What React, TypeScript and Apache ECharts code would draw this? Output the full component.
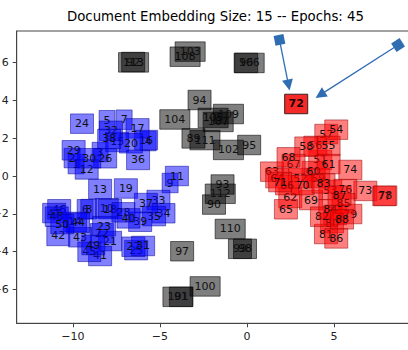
import React, { useEffect, useRef } from 'react';
import * as echarts from 'echarts';

const TITLE = 'Document Embedding Size: 15 -- Epochs: 45';
const X_TICKS = [-10, -5, 0, 5];
const Y_TICKS = [-6, -4, -2, 0, 2, 4, 6];
const X_RANGE = [-13.22, 9.44];
const Y_RANGE = [-7.79, 7.67];

const blueLabels = [1,2,3,4,5,6,7,8,9,10,11,12,13,14,15,16,17,18,19,20,21,22,23,24,25,26,27,28,29,30,31,32,33,34,35,36,37,38,39,40,41,42,43,44,45,46,47,48,49,50];
const blueX = [-9.81,-10.04,-8.43,-5.67,-8.03,-9.29,-7.05,-9.08,-4.41,-8.05,-4.02,-9.20,-8.43,-9.87,-7.45,-5.79,-6.28,-7.86,-6.95,-6.66,-7.86,-8.33,-8.20,-9.47,-6.36,-8.14,-6.52,-7.09,-9.95,-9.05,-5.96,-7.81,-5.08,-4.79,-5.33,-6.25,-5.80,-7.91,-6.13,-6.80,-8.43,-10.83,-9.58,-9.70,-9.05,-10.78,-11.07,-10.92,-8.82,-10.60];
const blueY = [0.63,0.95,1.27,1.85,2.95,-1.76,2.98,-1.75,-0.37,-1.71,0.00,0.35,-0.69,-2.43,1.80,1.90,2.52,-1.75,-0.66,1.73,-3.44,-3.03,-2.65,2.77,-3.92,0.94,-3.74,-1.92,1.36,0.94,-3.70,2.39,-1.27,-1.97,-2.12,0.85,-1.43,1.96,-2.42,-2.24,-4.23,-3.17,-3.24,-2.47,-4.01,-1.76,-1.96,-2.15,-3.65,-2.54];

const redLabels = [51,52,53,57,54,56,55,58,59,60,61,62,63,64,65,66,67,68,69,70,71,72,73,74,75,76,77,78,79,80,81,82,83,84,85,86,87,88];
const redX = [4.21,3.06,4.79,4.56,5.13,3.93,4.69,3.41,4.10,3.83,4.69,2.49,1.44,1.74,2.24,2.30,2.68,2.39,3.68,3.20,1.91,2.83,6.80,5.94,5.07,5.65,7.89,7.95,5.94,4.89,4.54,4.31,4.40,4.79,5.55,5.13,5.32,5.46];
const redY = [0.85,-0.11,-0.74,2.22,2.45,1.59,1.59,1.55,-0.11,0.26,0.63,-1.16,0.23,-0.11,-1.76,-0.48,0.63,0.99,-1.27,-0.48,-0.32,3.81,-0.79,0.32,-2.06,-0.69,-1.06,-1.04,-2.01,-2.49,-3.07,-2.15,-0.39,-1.76,-1.44,-3.30,-1.04,-2.29];

const grayLabels = [89,90,91,113,92,93,94,95,96,97,98,99,100,101,102,108,103,104,105,106,107,109,110,111,112];
const grayX = [-3.07,-1.89,-3.79,-6.51,-6.53,-1.40,-2.72,0.13,-0.04,-3.72,-0.11,-0.40,-2.40,-3.96,-1.06,-3.55,-3.26,-4.14,-1.94,0.13,-1.65,-1.06,-0.96,-2.41,-1.53];
const grayY = [1.99,-1.51,-6.39,6.01,6.03,-0.45,4.02,1.64,5.98,-3.98,-3.85,-3.85,-5.84,-6.39,1.38,6.31,6.58,2.99,3.07,5.98,2.86,3.28,-2.80,1.90,-0.94];

const highlighted = [72];

const arrowStartX = [1.87, 8.68];
const arrowStartY = [7.20, 6.93];
const arrowEndX = [2.39, 4.21];
const arrowEndY = [4.81, 4.29];

const FONT = 'DejaVu Sans';
const fmt = (v: number) => (v < 0 ? '\u2212' + Math.abs(v) : String(v));

function boxSeries(labels: number[], xs: number[], ys: number[], fill: string, stroke: string) {
  return {
    type: 'custom',
    coordinateSystem: 'cartesian2d',
    clip: false,
    silent: true,
    data: labels.map((_, i) => [xs[i], ys[i]]),
    renderItem: (params: any, api: any) => {
      const p = api.coord([api.value(0), api.value(1)]);
      const lab = String(labels[params.dataIndex]);
      const hl = highlighted.includes(labels[params.dataIndex]);
      const w = lab.length * 7.06 + 8.9;
      const h = 19.5;
      return {
        type: 'group',
        children: [
          {
            type: 'rect',
            shape: { x: p[0] - w / 2, y: p[1] - h / 2, width: w, height: h },
            style: {
              fill: hl ? 'rgba(245,30,30,0.95)' : fill,
              stroke: hl ? '#3a2020' : stroke,
              lineWidth: 1,
            },
          },
          {
            type: 'text',
            style: {
              text: lab,
              x: p[0],
              y: p[1],
              align: 'center',
              verticalAlign: 'middle',
              textAlign: 'center',
              textVerticalAlign: 'middle',
              font: (hl ? 'bold ' : '') + '11px "DejaVu Sans"',
              fill: hl ? '#200000' : '#111',
            },
          },
        ],
      };
    },
  };
}

export default function App() {
  const ref = useRef<HTMLDivElement>(null);
  useEffect(() => {
    if (!ref.current) return;
    const chart = echarts.init(ref.current, null, { renderer: 'svg' });
    const axisCommon = {
      axisLine: { show: true, onZero: false, lineStyle: { color: '#444', width: 1 } },
      axisTick: { show: true, length: 4, lineStyle: { color: '#444', width: 1 } },
      splitLine: { show: false },
    };
    chart.setOption({
      animation: false,
      backgroundColor: '#fff',
      title: {
        text: TITLE,
        left: 67,
        top: 10,
        padding: 0,
        textStyle: { fontFamily: FONT, fontSize: 13.3, fontWeight: 'normal', color: '#000' },
      },
      grid: {
        left: 16.7,
        top: 31,
        width: 394.6,
        height: 292.3,
        containLabel: false,
        outerBoundsMode: 'none',
        show: true,
        borderColor: '#444',
        borderWidth: 1,
        backgroundColor: 'transparent',
      },
      xAxis: {
        type: 'value',
        min: X_RANGE[0],
        max: X_RANGE[1],
        ...axisCommon,
        axisTick: { ...axisCommon.axisTick, customValues: X_TICKS },
        axisLabel: {
          customValues: X_TICKS,
          formatter: fmt,
          margin: 8,
          fontFamily: FONT,
          fontSize: 11,
          color: '#222',
        },
      },
      yAxis: {
        type: 'value',
        min: Y_RANGE[0],
        max: Y_RANGE[1],
        ...axisCommon,
        axisTick: { ...axisCommon.axisTick, customValues: Y_TICKS },
        axisLabel: {
          customValues: Y_TICKS,
          formatter: fmt,
          margin: 8,
          fontFamily: FONT,
          fontSize: 11,
          color: '#222',
        },
      },
      series: [
        boxSeries(blueLabels, blueX, blueY, 'rgba(0,0,255,0.5)', 'rgba(0,0,150,0.5)'),
        boxSeries(redLabels, redX, redY, 'rgba(255,0,0,0.5)', 'rgba(150,0,0,0.5)'),
        boxSeries(grayLabels, grayX, grayY, 'rgba(0,0,0,0.5)', 'rgba(0,0,0,0.55)'),
        {
          type: 'lines',
          coordinateSystem: 'cartesian2d',
          silent: true,
          z: 5,
          symbol: ['rect', 'triangle'],
          symbolSize: [10, 11],
          lineStyle: { color: '#2f6db3', width: 1.3, opacity: 1, curveness: 0 },
          itemStyle: { color: '#2f6db3' },
          data: arrowStartX.map((x, i) => ({
            coords: [
              [x, arrowStartY[i]],
              [arrowEndX[i], arrowEndY[i]],
            ],
          })),
        },
      ],
    });
    return () => chart.dispose();
  }, []);
  return (
    <div
      ref={ref}
      style={{ position: 'fixed', left: 0, top: 0, width: 408, height: 350, background: '#fff' }}
    />
  );
}
